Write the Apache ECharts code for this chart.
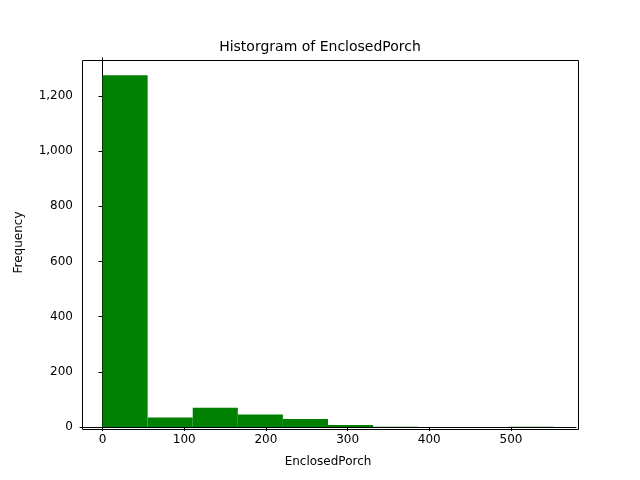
<!DOCTYPE html>
<html>
<head>
<meta charset="utf-8">
<script src="https://cdn.jsdelivr.net/npm/echarts@6/dist/echarts.min.js"></script>
<style>html,body{margin:0;padding:0;background:#fff}#chart{width:640px;height:480px}</style>
</head>
<body>
<div id="chart"></div>
<script>
// histogram bins of EnclosedPorch (10 bins over 0..552)
const binEdges = [0, 55.2, 110.4, 165.6, 220.8, 276, 331.2, 386.4, 441.6, 496.8, 552]
const counts = [1275, 34, 70, 45, 29, 7, 1, 0, 0, 1]
const xTicks = [0, 100, 200, 300, 400, 500]
const yTicks = [0, 200, 400, 600, 800, 1000, 1200]

const binData = counts.map((c, i) => [binEdges[i], binEdges[i + 1], c])
const font = "DejaVu Sans"

const chart = echarts.init(document.getElementById("chart"))
chart.setOption({
	animation: false,
	title: {
		text: "Historgram of EnclosedPorch", left: "center", top: 35,
		textStyle: { fontFamily: font, fontSize: 14, fontWeight: "normal", color: "#000" }
	},
	grid: { left: 80, right: 64, top: 58, bottom: 53 },
	xAxis: {
		type: "value", min: -27.6, max: 579.6,
		name: "EnclosedPorch", nameLocation: "middle", nameGap: 29,
		nameTextStyle: { fontFamily: font, fontSize: 12, color: "#000" },
		splitLine: { show: false },
		axisLine: { onZero: false, lineStyle: { color: "#000" } },
		axisTick: { show: true, length: 4, lineStyle: { color: "#000" }, customValues: xTicks },
		axisLabel: { fontFamily: font, fontSize: 12, color: "#000", margin: 7, customValues: xTicks }
	},
	yAxis: {
		type: "value", min: 0, max: 1338,
		name: "Frequency", nameLocation: "middle", nameGap: 55,
		nameTextStyle: { fontFamily: font, fontSize: 12, color: "#000" },
		splitLine: { show: false },
		axisLine: { show: true, lineStyle: { color: "#000" } },
		axisTick: { show: true, length: 4, lineStyle: { color: "#000" }, customValues: yTicks },
		axisLabel: { fontFamily: font, fontSize: 12, color: "#000", margin: 7, customValues: yTicks }
	},
	series: [{
		type: "custom",
		data: binData,
		encode: { x: [0, 1], y: 2 },
		renderItem: (params, api) => {
			const p0 = api.coord([api.value(0), api.value(2)])
			const p1 = api.coord([api.value(1), 0])
			return {
				type: "rect",
				shape: { x: p0[0], y: p0[1], width: p1[0] - p0[0], height: p1[1] - p0[1] },
				style: { fill: "#008000" }
			}
		}
	}, {
		type: "line", data: [], markLine: undefined
	}],
	graphic: [{
		type: "rect", left: 80, top: 58,
		shape: { width: 496, height: 369 },
		style: { fill: "none", stroke: "#000", lineWidth: 1 }, silent: true
	}]
})
</script>
</body>
</html>
